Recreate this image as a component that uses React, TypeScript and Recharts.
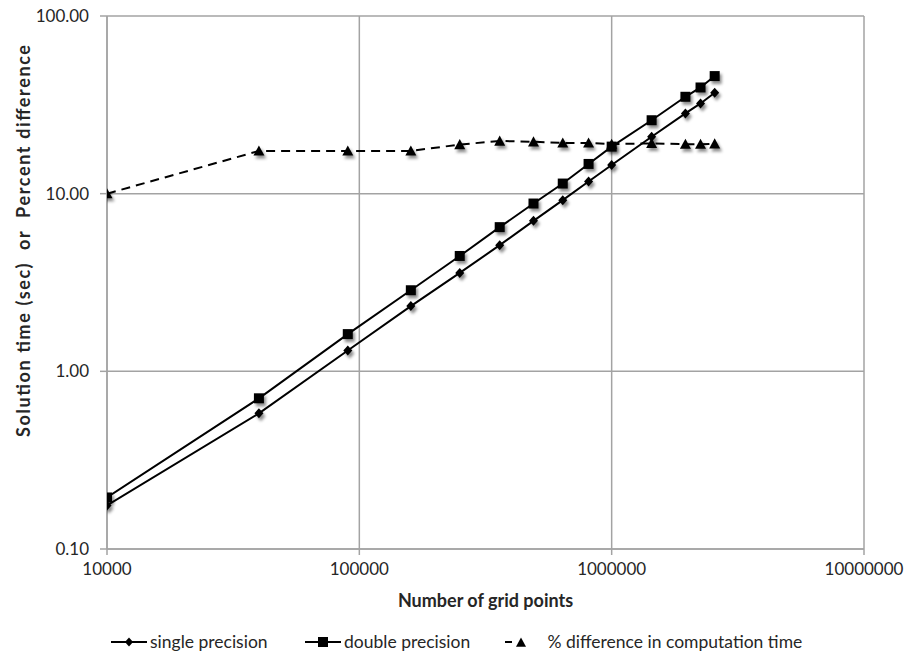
import { CartesianGrid, Label, Legend, Line, LineChart, XAxis, YAxis } from 'recharts';

const gridPoints = [10000, 40000, 90000, 160000, 250000, 360000, 490000, 640000, 810000, 1000000, 1440000, 1960000, 2250000, 2560000];
const singlePrecision = [0.176, 0.58, 1.31, 2.33, 3.58, 5.13, 7.03, 9.19, 11.7, 14.5, 20.9, 28.3, 32.2, 37.0];
const doublePrecision = [0.195, 0.705, 1.62, 2.86, 4.46, 6.48, 8.8, 11.4, 14.7, 18.4, 25.9, 35.1, 39.6, 45.9];
const pctDifference = [10.0, 17.4, 17.4, 17.4, 18.9, 19.8, 19.6, 19.3, 19.3, 19.0, 19.2, 19.0, 19.0, 19.1];

const xTicks = [10000, 100000, 1000000, 10000000];
const yTicks = [0.1, 1, 10, 100];

const seriesNames = ['single precision', 'double precision', '% difference in computation time'];

const data = gridPoints.map((n, i) => ({
  n,
  single: singlePrecision[i],
  double: doublePrecision[i],
  pct: pctDifference[i],
}));

const GRID = '#a3a3a3';
const TEXT = '#262626';
const FONT = 'Lato, "Open Sans", sans-serif';

function diamondPath(cx: number, cy: number, r = 5) {
  return `M${cx},${cy - r}L${cx + r * 0.9},${cy}L${cx},${cy + r}L${cx - r * 0.9},${cy}Z`;
}
function squarePath(cx: number, cy: number, r = 5) {
  return `M${cx - r},${cy - r}H${cx + r}V${cy + r}H${cx - r}Z`;
}
function trianglePath(cx: number, cy: number, r = 5.5) {
  return `M${cx},${cy - r}L${cx + r},${cy + r * 0.85}L${cx - r},${cy + r * 0.85}Z`;
}

function makeDot(shape: (cx: number, cy: number) => string) {
  return (props: any) => {
    const { cx, cy, index } = props;
    if (cx == null || cy == null) return <g key={index} />;
    return <path key={index} d={shape(cx, cy)} fill="#000" filter="url(#mk-shadow)" />;
  };
}

function LegendIcon({ kind }: { kind: number }) {
  if (kind === 2) {
    return (
      <svg width={36} height={14} style={{ display: 'block' }}>
        <line x1={0} x2={7} y1={7} y2={7} stroke="#000" strokeWidth={2} />
        <path d={trianglePath(16, 7.5, 5)} fill="#000" />
      </svg>
    );
  }
  return (
    <svg width={36} height={14} style={{ display: 'block' }}>
      <line x1={0} x2={36} y1={7} y2={7} stroke="#000" strokeWidth={2} />
      <path d={kind === 0 ? diamondPath(18, 7, 4.5) : squarePath(18, 7, 5)} fill="#000" />
    </svg>
  );
}

function renderLegend() {
  const lefts = [111, 305, 505];
  return (
    <div style={{ position: 'relative', width: 907, height: 48 }}>
      {seriesNames.map((name, i) => (
        <div
          key={name}
          style={{
            position: 'absolute',
            left: lefts[i],
            top: 24,
            display: 'flex',
            alignItems: 'center',
            whiteSpace: 'pre',
            fontSize: 17.5,
            color: TEXT,
            fontFamily: FONT,
          }}
        >
          <LegendIcon kind={i} />
          <span style={{ marginLeft: i === 2 ? 2 : 3, lineHeight: '20px' }}>{i === 2 ? ' ' + name : name}</span>
        </div>
      ))}
    </div>
  );
}

export default function App() {
  return (
    <div style={{ position: 'absolute', left: 0, top: 0, width: 907, height: 656, background: '#fff', fontFamily: FONT }}>
      <svg width={0} height={0} style={{ position: 'absolute' }}>
        <defs>
          <filter id="mk-shadow" x="-50%" y="-50%" width="220%" height="220%">
            <feDropShadow dx={2} dy={3} stdDeviation={1.4} floodColor="#000" floodOpacity={0.45} />
          </filter>
        </defs>
      </svg>
      <LineChart width={907} height={656} data={data} margin={{ top: 16, right: 43, bottom: 0, left: 0 }}>
        <CartesianGrid stroke={GRID} strokeWidth={1.5} />
        <XAxis
          dataKey="n"
          type="number"
          scale="log"
          domain={[10000, 10000000]}
          ticks={xTicks}
          allowDataOverflow
          tickFormatter={(v) => String(v)}
          height={59}
          tickSize={6}
          tickMargin={8}
          stroke={GRID}
          strokeWidth={1.5}
          tick={{ fill: TEXT, fontSize: 17 }}
        >
          <Label
            content={({ viewBox }: any) => (
              <text
                x={viewBox.x + viewBox.width / 2}
                y={viewBox.y + 51}
                textAnchor="middle"
                dominantBaseline="central"
                fontWeight={700}
                fontSize={18}
                fill={TEXT}
              >
                Number of grid points
              </text>
            )}
          />
        </XAxis>
        <YAxis
          type="number"
          scale="log"
          domain={[0.1, 100]}
          ticks={yTicks}
          allowDataOverflow
          tickFormatter={(v) => Number(v).toFixed(2)}
          width={107}
          tickSize={7}
          tickMargin={11}
          stroke={GRID}
          strokeWidth={1.5}
          tick={{ fill: TEXT, fontSize: 17 }}
        >
          <Label
            content={() => {
              const x = 23;
              const y = 241;
              return (
                <text
                  x={x}
                  y={y}
                  transform={`rotate(-90 ${x} ${y})`}
                  textAnchor="middle"
                  dominantBaseline="central"
                  fontWeight={700}
                  fontSize={18}
                  fill={TEXT}
                  textLength={392}
                  lengthAdjust="spacing"
                  style={{ whiteSpace: 'pre' }}
                >
                  {'Solution time (sec)  or  Percent difference'}
                </text>
              );
            }}
          />
        </YAxis>
        <Legend verticalAlign="bottom" height={48} content={renderLegend} wrapperStyle={{ left: 0, width: 907 }} />
        <Line
          dataKey="pct"
          name={seriesNames[2]}
          stroke="#000"
          strokeWidth={2}
          strokeDasharray="9 6"
          dot={makeDot((cx, cy) => trianglePath(cx, cy))}
          activeDot={false}
          isAnimationActive={false}
        />
        <Line
          dataKey="single"
          name={seriesNames[0]}
          stroke="#000"
          strokeWidth={2}
          dot={makeDot((cx, cy) => diamondPath(cx, cy))}
          activeDot={false}
          isAnimationActive={false}
        />
        <Line
          dataKey="double"
          name={seriesNames[1]}
          stroke="#000"
          strokeWidth={2}
          dot={makeDot((cx, cy) => squarePath(cx, cy))}
          activeDot={false}
          isAnimationActive={false}
        />
      </LineChart>
    </div>
  );
}
